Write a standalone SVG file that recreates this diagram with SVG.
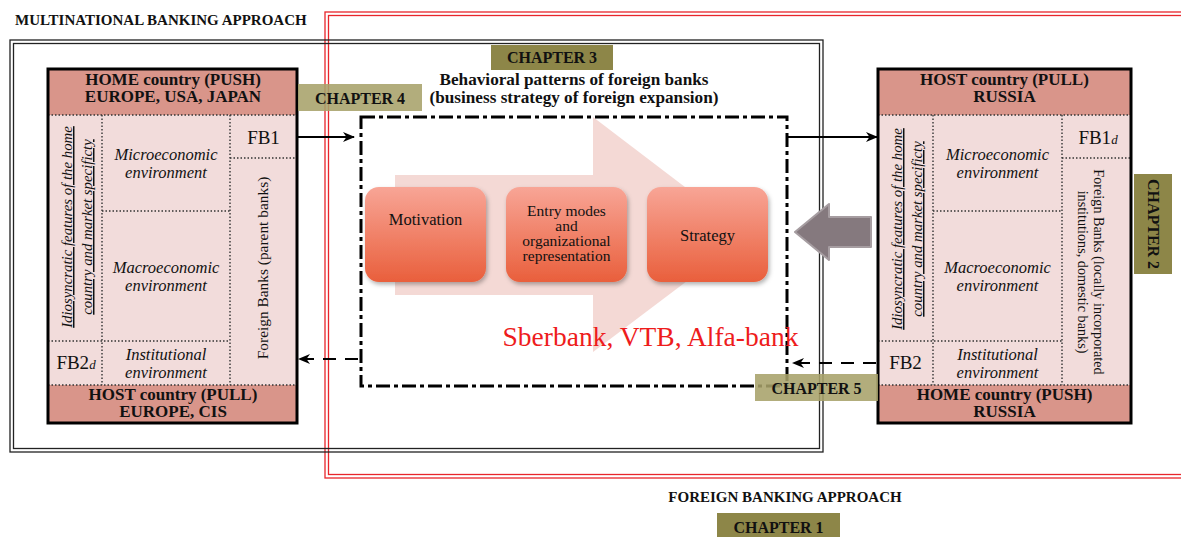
<svg xmlns="http://www.w3.org/2000/svg" width="1181" height="537" viewBox="0 0 1181 537">
<defs>
<style>
.t{font-family:"Liberation Serif","Times New Roman",serif;fill:#111}
.b{font-weight:bold}
.i{font-style:italic}
.hdr{fill:#d9958a}
.body{fill:#f2dcdb}
.frame{fill:none;stroke:#000;stroke-width:3}
.dot{stroke:#333;stroke-width:1.4;stroke-dasharray:1.5 2;fill:none}
.ch{fill:#8d8648}
.chl{fill:#a7a26a;fill-opacity:0.88}
.cht{font-family:"Liberation Serif","Times New Roman",serif;font-weight:bold;font-size:16px;fill:#111;text-anchor:middle}
.mid{text-anchor:middle}
.env{font-size:16.5px}
.conn{stroke:#000;stroke-width:2.2;fill:none}
.dash{stroke-dasharray:13 9}
.rbox{fill:url(#og);filter:url(#sh)}
</style>
<linearGradient id="og" x1="0" y1="0" x2="0" y2="1">
<stop offset="0" stop-color="#f8a596"/>
<stop offset="1" stop-color="#e95f3c"/>
</linearGradient>
<filter id="sh" x="-10%" y="-10%" width="130%" height="130%">
<feDropShadow dx="1.5" dy="2.5" stdDeviation="2" flood-color="#000" flood-opacity="0.3"/>
</filter>
<marker id="ah" viewBox="0 0 12 10" refX="11" refY="5" markerWidth="12" markerHeight="10" markerUnits="userSpaceOnUse" orient="auto">
<path d="M0,0 L12,5 L0,10 L3.5,5 z" fill="#000"/>
</marker>
</defs>
<rect width="1181" height="537" fill="#fff"/>

<g id="foreign-approach">
<rect x="325" y="12" width="1000" height="466" fill="none" stroke="#e8262b" stroke-width="1.3"/>
<rect x="328.5" y="15.5" width="1000" height="459" fill="none" stroke="#e8262b" stroke-width="1.3"/>
<text class="t b mid" x="785" y="502" font-size="15">FOREIGN BANKING APPROACH</text>
</g>

<g id="multinational-approach">
<rect x="10" y="40" width="813" height="412" fill="none" stroke="#222" stroke-width="1.3"/>
<rect x="13.5" y="43.5" width="806" height="405" fill="none" stroke="#222" stroke-width="1.3"/>
<text class="t b" x="15" y="25" font-size="15">MULTINATIONAL BANKING APPROACH</text>
</g>

<g id="left-panel">
<rect class="hdr" x="48" y="69" width="249" height="46"/>
<rect class="body" x="48" y="115" width="249" height="270"/>
<rect class="hdr" x="48" y="385" width="249" height="38"/>
<line class="dot" x1="48" y1="115" x2="297" y2="115"/>
<line class="dot" x1="48" y1="385" x2="297" y2="385"/>
<line class="dot" x1="102" y1="115" x2="102" y2="385"/>
<line class="dot" x1="230" y1="115" x2="230" y2="385"/>
<line class="dot" x1="102" y1="211" x2="230" y2="211"/>
<line class="dot" x1="48" y1="341" x2="230" y2="341"/>
<line class="dot" x1="230" y1="158" x2="297" y2="158"/>
<rect class="frame" x="48" y="69" width="249" height="354"/>
<text class="t b mid" x="173" y="85" font-size="17">HOME country (PUSH)</text>
<text class="t b mid" x="173" y="102" font-size="17">EUROPE, USA, JAPAN</text>
<text class="t b mid" x="173" y="400" font-size="17">HOST country (PULL)</text>
<text class="t b mid" x="173" y="417" font-size="17">EUROPE, CIS</text>
<text class="t i mid" transform="translate(72,227) rotate(-90)" font-size="14.8" text-decoration="underline">Idiosyncratic features of the home</text>
<text class="t i mid" transform="translate(92,227) rotate(-90)" font-size="14.8" text-decoration="underline">country and market specificty</text>
<text class="t i mid env" x="166" y="160">Microeconomic</text>
<text class="t i mid env" x="166" y="178">environment</text>
<text class="t i mid env" x="166" y="273">Macroeconomic</text>
<text class="t i mid env" x="166" y="291">environment</text>
<text class="t i mid env" x="166" y="360">Institutional</text>
<text class="t i mid env" x="166" y="378">environment</text>
<text class="t mid" x="263.5" y="144" font-size="19">FB1</text>
<text class="t mid" x="76" y="369" font-size="19">FB2<tspan class="i" font-size="13">d</tspan></text>
<text class="t mid" transform="translate(268,268) rotate(-90)" font-size="15.4">Foreign Banks (parent banks)</text>
</g>

<g id="right-panel">
<rect class="hdr" x="878" y="69" width="253" height="46"/>
<rect class="body" x="878" y="115" width="253" height="270"/>
<rect class="hdr" x="878" y="385" width="253" height="38"/>
<line class="dot" x1="878" y1="115" x2="1131" y2="115"/>
<line class="dot" x1="878" y1="385" x2="1131" y2="385"/>
<line class="dot" x1="933" y1="115" x2="933" y2="385"/>
<line class="dot" x1="1062" y1="115" x2="1062" y2="385"/>
<line class="dot" x1="933" y1="211" x2="1062" y2="211"/>
<line class="dot" x1="878" y1="341" x2="1062" y2="341"/>
<line class="dot" x1="1062" y1="158" x2="1131" y2="158"/>
<rect class="frame" x="878" y="69" width="253" height="354"/>
<text class="t b mid" x="1004.5" y="85" font-size="17">HOST country (PULL)</text>
<text class="t b mid" x="1004.5" y="102" font-size="17">RUSSIA</text>
<text class="t b mid" x="1004.5" y="400" font-size="17">HOME country (PUSH)</text>
<text class="t b mid" x="1004.5" y="417" font-size="17">RUSSIA</text>
<text class="t i mid" transform="translate(902,229) rotate(-90)" font-size="14.8" text-decoration="underline">Idiosyncratic features of the home</text>
<text class="t i mid" transform="translate(922,229) rotate(-90)" font-size="14.8" text-decoration="underline">country and market specificty</text>
<text class="t i mid env" x="997.5" y="160">Microeconomic</text>
<text class="t i mid env" x="997.5" y="178">environment</text>
<text class="t i mid env" x="997.5" y="273">Macroeconomic</text>
<text class="t i mid env" x="997.5" y="291">environment</text>
<text class="t i mid env" x="997.5" y="360">Institutional</text>
<text class="t i mid env" x="997.5" y="378">environment</text>
<text class="t mid" x="1098" y="144" font-size="19">FB1<tspan class="i" font-size="13">d</tspan></text>
<text class="t mid" x="905.5" y="369" font-size="19">FB2</text>
<text class="t mid" transform="translate(1094,272) rotate(90)" font-size="14.2">Foreign Banks (locally incorporated</text>
<text class="t mid" transform="translate(1078,272) rotate(90)" font-size="14.2">institutions, domestic banks)</text>
</g>

<g id="behavioral-patterns">
<text class="t b mid" x="574" y="85" font-size="17.2">Behavioral patterns of foreign banks</text>
<text class="t b mid" x="574" y="103" font-size="17.2">(business strategy of foreign expansion)</text>
<polygon points="395,175 593,175 593,117 748,235 593,352 593,295 395,295" fill="#f2d2ce" fill-opacity="0.85"/>
<rect x="361" y="117" width="426" height="269" fill="none" stroke="#000" stroke-width="3" stroke-dasharray="14 4 4 4"/>
</g>

<g id="motivation">
<rect class="rbox" x="365" y="187" width="121" height="95" rx="14"/>
<text class="t mid" x="425.5" y="225" font-size="16.5">Motivation</text>
</g>
<g id="entry-modes">
<rect class="rbox" x="506" y="187" width="121" height="95" rx="14"/>
<text class="t mid" x="566.5" y="216" font-size="15.5">Entry modes</text>
<text class="t mid" x="566.5" y="231" font-size="15.5">and</text>
<text class="t mid" x="566.5" y="246" font-size="15.5">organizational</text>
<text class="t mid" x="566.5" y="261" font-size="15.5">representation</text>
</g>
<g id="strategy">
<rect class="rbox" x="647" y="187" width="121" height="95" rx="14"/>
<text class="t mid" x="707.5" y="241" font-size="16.5">Strategy</text>
</g>

<g id="russian-banks">
<text x="650.5" y="346" font-family="Liberation Serif, Times New Roman, serif" font-size="27.5" fill="#ee1c1c" text-anchor="middle">Sberbank, VTB, Alfa-bank</text>
</g>

<g id="connectors">
<line class="conn" x1="298" y1="137" x2="354" y2="137" marker-end="url(#ah)"/>
<line class="conn" x1="788" y1="137" x2="877" y2="137" marker-end="url(#ah)"/>
<line class="conn dash" x1="358" y1="359" x2="299" y2="359" marker-end="url(#ah)"/>
<line class="conn dash" x1="876" y1="363" x2="793" y2="363" marker-end="url(#ah)"/>
<polygon points="795,232 829,204 829,217 871,217 871,247 829,247 829,260" fill="#85797e" stroke="#a69da1" stroke-width="2" stroke-linejoin="round"/>
</g>

<g id="chapter-1"><rect class="ch" x="717" y="513" width="123" height="26"/><text class="cht" x="778.5" y="533">CHAPTER 1</text></g>
<g id="chapter-2"><rect class="ch" x="1134" y="174" width="38" height="100"/><text class="cht" transform="translate(1148,224) rotate(90)">CHAPTER 2</text></g>
<g id="chapter-3"><rect class="ch" x="491" y="45" width="122" height="25"/><text class="cht" x="552" y="63">CHAPTER 3</text></g>
<g id="chapter-4"><rect class="chl" x="298" y="84" width="124" height="27"/><text class="cht" x="360" y="104">CHAPTER 4</text></g>
<g id="chapter-5"><rect class="chl" x="755" y="374" width="123" height="27"/><text class="cht" x="816.5" y="394">CHAPTER 5</text></g>
</svg>
